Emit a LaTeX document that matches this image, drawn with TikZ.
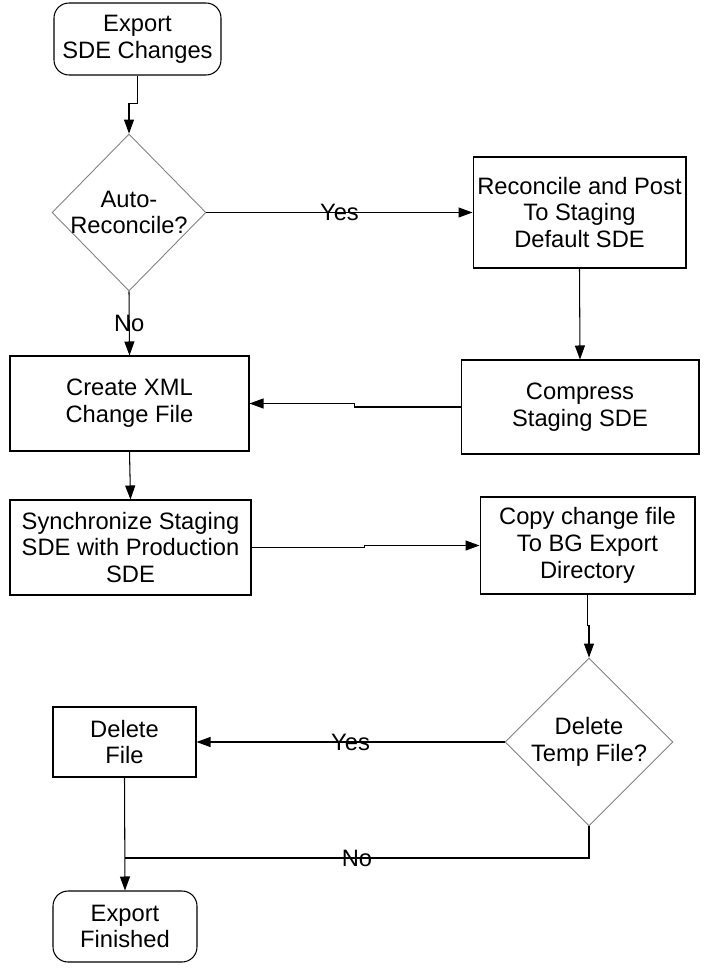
\documentclass[tikz,border=0pt]{standalone}
\usepackage{fontspec}
\setmainfont{Liberation Sans}
\usepackage{tikz}
\usetikzlibrary{arrows.meta,shapes.geometric}
\tikzset{>/.tip={Triangle[length=2.8mm,width=2mm]},
  box/.style={draw,line width=0.6pt,inner sep=0pt,align=center},
  term/.style={box,rounded corners=3mm},
  decision/.style={draw=gray,line width=0.5pt,diamond,inner sep=-4mm,align=center}}

\begin{document}
\begin{tikzpicture}[x=0.02cm,y=-0.02cm,font=\fontsize{13.5pt}{15.3pt}\selectfont]
\useasboundingbox (0,0) rectangle (707,970);
\node[term,minimum width=3.34cm,minimum height=1.44cm] (export) at (137.5,39) {Export\\SDE Changes};
\node[decision,minimum width=3.08cm,minimum height=3.14cm] (auto-rec) at (129,212.5) {Auto-\\Reconcile?};
\node[box,minimum width=4.26cm,minimum height=2.22cm] (post) at (579.5,212.5) {Reconcile and Post\\To Staging\\Default SDE};
\node[box,minimum width=4.76cm,minimum height=1.88cm] (compress) at (580,407) {Compress\\Staging SDE};
\node[box,minimum width=4.78cm,minimum height=1.90cm] (xml) at (129.5,403.5) {Create XML\\Change File};
\node[box,minimum width=4.82cm,minimum height=1.90cm] (sync) at (130.5,547.5) {Synchronize Staging\\SDE with Production\\SDE};
\node[box,minimum width=4.30cm,minimum height=1.94cm] (copy) at (587.5,545.5) {Copy change file\\To BG Export\\Directory};
\node[decision,minimum width=3.36cm,minimum height=3.36cm] (del-temp) at (589,742) {Delete\\Temp File?};
\node[box,minimum width=2.86cm,minimum height=1.40cm] (del-file) at (124.5,742) {Delete\\File};
\node[term,minimum width=2.88cm,minimum height=1.42cm] (finished) at (125,926.5) {Export\\Finished};
\coordinate (join) at (125,858);

\draw[->,line width=0.6pt] (export.south) -- ++(0,28) -| (auto-rec.north);
\draw[->,line width=0.6pt] (auto-rec.east) -- node {Yes} (post.west);
\draw[->,line width=0.6pt] (auto-rec.south) -- node {No} (xml.north);
\draw[->,line width=0.6pt] (post.south) -- (compress.north);
\draw[->,line width=0.6pt] (compress.west) -- ++(-106,0) |- (xml.east);
\draw[->,line width=0.6pt] (xml.south) -- (sync.north);
\draw[->,line width=0.6pt] (sync.east) -- ++(113,0) |- (copy.west);
\draw[->,line width=0.6pt] (copy.south) -- ++(0,31) -| (del-temp.north);
\draw[->,line width=0.6pt] (del-temp.west) -- node {Yes} (del-file.east);
\draw[line width=0.6pt] (del-temp.south) |- node[pos=0.75] {No} (join);
\draw[->,line width=0.6pt] (del-file.south) -- (finished.north);
\end{tikzpicture}
\end{document}
